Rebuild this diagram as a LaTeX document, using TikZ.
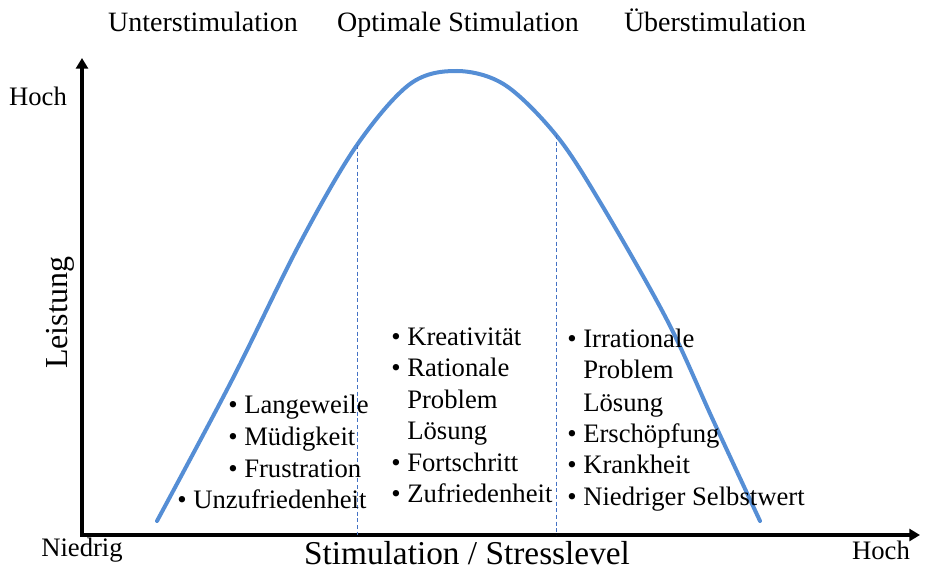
\documentclass[tikz,border=0pt]{standalone}
\usepackage{fontspec}
\setmainfont{Liberation Serif}
\usetikzlibrary{arrows.meta}

\definecolor{kurve}{RGB}{85,142,213}
\definecolor{trenn}{RGB}{68,114,196}

\newcommand{\blt}{\textbullet\ }
\newcommand{\nbl}{\phantom{\textbullet\ }}

\tikzset{
  axis/.style={line width=3pt, line join=miter},
  item/.style={anchor=base west, inner sep=0pt, font=\fontsize{20}{24}\selectfont},
  head/.style={anchor=base, inner sep=0pt, font=\fontsize{21}{25}\selectfont},
  ende/.style={inner sep=0pt, font=\fontsize{20}{24}\selectfont},
}

\begin{document}
\begin{tikzpicture}[x=0.75pt, y=-0.75pt]

			\useasboundingbox (0,0) rectangle (945,585);

			% Achsen
			\coordinate (O) at (82,535);
			\coordinate (ytip) at (82,58);
			\coordinate (xtip) at (920,535);
			\draw [axis] [{Triangle[length=8pt,width=9pt]}-{Triangle[length=8pt,width=9pt]}] (ytip)--(O)--(xtip);

			\node [ende] (hochY) at (38,96) {Hoch};
			\node [ende] (niedrig) at (82,550) {Niedrig};
			\node [ende] (hochX) at (881,550) {Hoch};
			\node [inner sep=0pt, font=\fontsize{25}{29}\selectfont] (xlab) at (467,553) {Stimulation / Stresslevel};
			\node [inner sep=0pt, rotate=90, font=\fontsize{24}{28}\selectfont] (ylab) at (60,313) {Leistung};

			% Kurve
			\draw [kurve, line width=3pt, line cap=round] plot [smooth, tension=0.55] coordinates {
				(157,521) (232,380) (300,243) (357,145) (410,84) (457,71)
				(505,85) (556,135) (600,202) (667,320) (713,420) (760,521)};

			% Trennlinien
			\coordinate (kL) at (357,145);
			\coordinate (kR) at (556,135);
			\coordinate (aL) at (357,535);
			\coordinate (aR) at (556,535);
			\draw [trenn, line width=0.6pt, dash pattern=on 3pt off 2pt] (kL)--(aL);
			\draw [trenn, line width=0.6pt, dash pattern=on 3pt off 2pt] (kR)--(aR);

			% Bereiche
			\node [head] (unter) at (203,32) {Unterstimulation};
			\node [head] (optimal) at (458,32) {Optimale Stimulation};
			\node [head] (ueber) at (715,32) {Überstimulation};

			\foreach \y/\txt in {413/Langeweile, 445/Müdigkeit, 477/Frustration}
				\node [item] (u\y) at (228,\y) {\blt\txt};
			\node [item] (u508) at (177,508) {\blt Unzufriedenheit};

			\foreach \y/\txt in {345/\blt Kreativität, 376/\blt Rationale, 408/\nbl Problem,
				439/\nbl Lösung, 471/\blt Fortschritt, 502/\blt Zufriedenheit}
				\node [item] (o\y) at (391,\y) {\txt};

			\foreach \y/\txt in {347/\blt Irrationale, 378/\nbl Problem, 411/\nbl Lösung,
				442/\blt Erschöpfung, 473/\blt Krankheit, 505/\blt Niedriger Selbstwert}
				\node [item] (s\y) at (567,\y) {\txt};
		\end{tikzpicture}
\end{document}
